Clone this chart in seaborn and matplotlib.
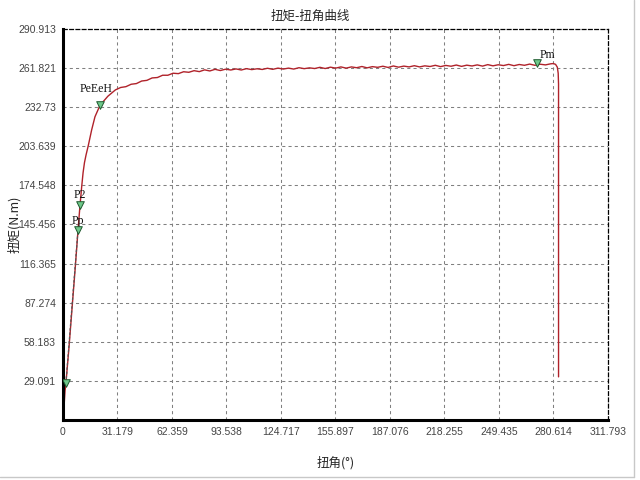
from pathlib import Path

import matplotlib

matplotlib.use("Agg")

import matplotlib.pyplot as plt
import pandas as pd
import seaborn as sns
from matplotlib.lines import Line2D
from matplotlib.ticker import AutoMinorLocator, FixedFormatter, FixedLocator


OUT_PATH = Path("out.png")

# curve: angle (deg) / torque (N.m)
ANGLE = [
    0.0, 0.4, 0.8, 1.2, 1.7, 3.5, 5.3, 7.0, 8.6, 9.7, 10.7, 11.5, 12.3, 13.2,
    14.5, 16.4, 18.3, 21.2, 25.7, 30.0, 33.0, 36.0, 39.0, 42.0, 45.0, 48.0,
    51.0, 54.0, 57.0, 60.0, 63.0, 66.0, 69.0, 72.0, 75.0, 78.0, 81.0, 84.0,
    87.0, 90.0, 93.0, 96.0, 99.0, 102.0, 105.0, 108.0, 111.0, 114.0, 117.0,
    120.0, 123.0, 126.0, 129.0, 132.0, 135.0, 138.0, 141.0, 144.0, 147.0,
    150.0, 153.0, 156.0, 159.0, 162.0, 165.0, 168.0, 171.0, 174.0, 177.0,
    180.0, 183.0, 186.0, 189.0, 192.0, 195.0, 198.0, 201.0, 204.0, 207.0,
    210.0, 213.0, 216.0, 219.0, 222.0, 225.0, 228.0, 231.0, 234.0, 237.0,
    240.0, 243.0, 246.0, 249.0, 252.0, 255.0, 258.0, 261.0, 264.0, 267.0,
    270.0, 273.0, 276.0, 279.0, 280.5, 281.8, 282.8, 283.3, 283.5, 283.5,
]
TORQUE = [
    0.0, 6.0, 14.0, 22.0, 27.6, 55.0, 85.0, 113.0, 141.2, 159.1, 173.5, 184.0,
    191.5, 197.2, 204.3, 215.8, 225.6, 234.2, 240.9, 245.6, 247.4, 248.0,
    249.8, 250.3, 252.2, 252.7, 254.5, 254.8, 256.5, 256.5, 258.0, 257.7,
    259.1, 258.7, 259.9, 259.2, 260.5, 259.7, 260.9, 260.0, 261.0, 260.4,
    261.2, 260.4, 261.4, 260.7, 261.3, 260.8, 261.7, 260.9, 261.8, 261.1,
    261.8, 261.1, 262.1, 261.4, 262.0, 261.5, 262.4, 261.5, 262.5, 261.8,
    262.7, 261.8, 262.7, 262.1, 263.0, 262.0, 262.9, 262.4, 263.2, 262.3,
    263.4, 262.5, 263.3, 262.7, 263.6, 262.7, 263.5, 263.0, 263.9, 262.9,
    263.8, 263.2, 264.1, 263.1, 264.0, 263.4, 264.2, 263.3, 264.4, 263.5,
    264.3, 263.7, 264.6, 263.6, 264.5, 263.9, 264.8, 263.9, 264.7, 264.2,
    265.0, 265.2, 264.6, 262.5, 258.0, 250.0, 32.1,
]

# dashed fit line over the elastic part
FIT_ANGLE = [1.7, 8.6]
FIT_TORQUE = [27.6, 141.2]

POINT_NAMES = ["", "Pp", "P2", "PeEeH", "Pm"]
POINT_ANGLE = [1.7, 8.6, 9.7, 21.2, 271.4]
POINT_TORQUE = [27.6, 141.2, 159.6, 234.2, 265.6]

X_TICKS = [0, 31.179, 62.359, 93.538, 124.717, 155.897, 187.076, 218.255,
           249.435, 280.614, 311.793]
X_LABELS = ["0", "31.179", "62.359", "93.538", "124.717", "155.897", "187.076",
            "218.255", "249.435", "280.614", "311.793"]
Y_TICKS = [29.091, 58.183, 87.274, 116.365, 145.456, 174.548, 203.639, 232.73,
           261.821, 290.913]
Y_LABELS = ["29.091", "58.183", "87.274", "116.365", "145.456", "174.548",
            "203.639", "232.73", "261.821", "290.913"]

CJK = ["Noto Sans CJK SC", "DejaVu Sans"]


def draw_curve(ax):
    curve = pd.DataFrame({"angle": ANGLE, "torque": TORQUE})
    sns.lineplot(data=curve, x="angle", y="torque", sort=False, estimator=None,
                 color="#b0222a", linewidth=1.0, ax=ax)

    fit = pd.DataFrame({"angle": FIT_ANGLE, "torque": FIT_TORQUE})
    sns.lineplot(data=fit, x="angle", y="torque", sort=False, estimator=None,
                 color="#555555", linewidth=0.9, linestyle=(0, (2, 1.5)), ax=ax)

    points = pd.DataFrame({"angle": POINT_ANGLE, "torque": POINT_TORQUE})
    sns.scatterplot(data=points, x="angle", y="torque", marker="v", s=30,
                    color="#6fc88a", edgecolor="#1f5a30", linewidth=0.7,
                    zorder=5, ax=ax)

    offsets = {"Pp": (0, 9), "P2": (0, 10), "PeEeH": (-4, 16), "Pm": (10, 8)}
    for name, x, y in zip(POINT_NAMES, POINT_ANGLE, POINT_TORQUE):
        if not name:
            continue
        dx, dy = offsets[name]
        ax.annotate(name, (x, y), xytext=(dx, dy), textcoords="offset pixels",
                    ha="center", va="center", fontsize=8.5,
                    family="Liberation Serif", color="#111111")


def style_axes(ax):
    ax.set_xlim(0, 311.793)
    ax.set_ylim(0, 290.913)
    ax.xaxis.set_major_locator(FixedLocator(X_TICKS))
    ax.xaxis.set_major_formatter(FixedFormatter(X_LABELS))
    ax.yaxis.set_major_locator(FixedLocator(Y_TICKS))
    ax.yaxis.set_major_formatter(FixedFormatter(Y_LABELS))
    ax.xaxis.set_minor_locator(AutoMinorLocator(4))
    ax.yaxis.set_minor_locator(AutoMinorLocator(4))

    ax.grid(True, which="major", color="#808080", linestyle=(0, (3, 3)),
            linewidth=0.75)
    ax.tick_params(which="major", direction="out", length=3, width=0.8,
                   labelsize=7.5, labelcolor="#444444", pad=2)
    ax.tick_params(which="minor", direction="in", length=3, width=0.8)
    for lab in ax.get_xticklabels() + ax.get_yticklabels():
        lab.set_family("Liberation Sans")

    for side in ["left", "bottom"]:
        ax.spines[side].set_linewidth(2.2)
        ax.spines[side].set_color("black")
    for side in ["top", "right"]:
        ax.spines[side].set_linewidth(0.9)
        ax.spines[side].set_color("black")
        ax.spines[side].set_linestyle((0, (3, 2)))

    ax.set_xlabel("扭角(°)", family=CJK, fontsize=9, labelpad=14)
    ax.set_ylabel("扭矩(N.m)", family=CJK, fontsize=9, labelpad=-2)


def main():
    sns.set_theme(style="white")
    plt.rcParams["font.family"] = CJK

    fig = plt.figure(figsize=(6.4, 4.8), dpi=100)
    ax = fig.add_axes([0.0984, 0.125, 0.8516, 0.8146])
    draw_curve(ax)
    style_axes(ax)

    fig.text(310 / 640, 1 - 16 / 480, "扭矩-扭角曲线", ha="center", va="center",
             fontsize=9, family=CJK)

    # window frame at right and bottom
    fig.add_artist(Line2D([0, 634 / 640], [3 / 480, 3 / 480],
                          transform=fig.transFigure, color="#c8c8c8", lw=1))
    fig.add_artist(Line2D([634 / 640, 634 / 640], [3 / 480, 1],
                          transform=fig.transFigure, color="#c8c8c8", lw=1))

    fig.savefig(OUT_PATH, dpi=100)
    plt.close(fig)


if __name__ == "__main__":
    main()
